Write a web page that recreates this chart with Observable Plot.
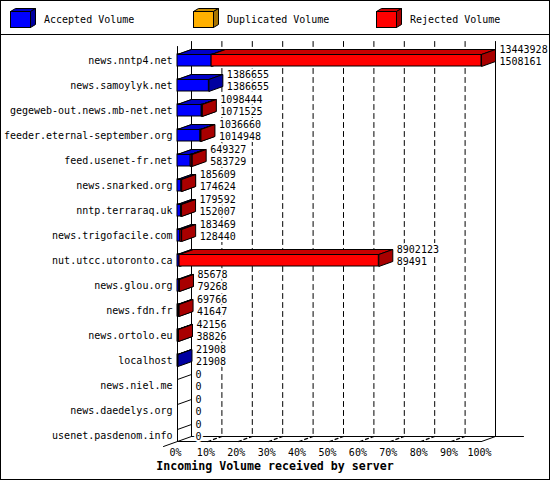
<!DOCTYPE html>
<html><head><meta charset="utf-8">
<script src="https://cdn.jsdelivr.net/npm/d3@7"></script>
<script src="https://cdn.jsdelivr.net/npm/@observablehq/plot@0.6"></script>
<style>
body{margin:0;background:#fff}
#chart{position:relative;width:550px;height:480px;background:#fff;font-family:"DejaVu Sans Mono",monospace;overflow:hidden}
#legend{position:relative;height:34px;border-bottom:1px solid #000}
.item{position:absolute;top:0;height:34px;width:180px}
.item svg{position:absolute;left:0;top:0}
.item span{position:absolute;left:34px;top:14px;line-height:12px;font-size:10px;white-space:nowrap;color:#000}
#plot svg{display:block}
#title{height:22px;line-height:16px;text-align:center;font-weight:bold;font-size:11.6px;color:#000}
#frame{position:absolute;left:0;top:0;width:550px;height:480px;box-sizing:border-box;border:1px solid #000;pointer-events:none}
</style></head>
<body>
<div id="chart">
  <div id="legend"></div>
  <div id="plot"></div>
  <div id="title"></div>
  <div id="frame"></div>
</div>
<script>
// ---- data ----
const hosts = ["news.nntp4.net","news.samoylyk.net","gegeweb-out.news.mb-net.net","feeder.eternal-september.org","feed.usenet-fr.net","news.snarked.org","nntp.terraraq.uk","news.trigofacile.com","nut.utcc.utoronto.ca","news.glou.org","news.fdn.fr","news.ortolo.eu","localhost","news.niel.me","news.daedelys.org","usenet.pasdenom.info"];
const offered  = [13443928,1386655,1098444,1036660,649327,185609,179592,183469,8902123,85678,69766,42156,21908,0,0,0];
const accepted = [1508161,1386655,1071525,1014948,583729,174624,152007,128440,89491,79268,41647,38826,21908,0,0,0];
const duplicated = [0,0,0,0,0,0,0,0,0,0,0,0,0,0,0,0];
const seriesNames = ["Accepted Volume","Duplicated Volume","Rejected Volume"];
const frontColors = ["#0000ff","#ffb000","#ff0000"];
const topColors   = ["#0000c8","#c88c00","#c80000"];
const sideColors  = ["#0000a0","#a87400","#a80000"];
const tickLabels = ["0%","10%","20%","30%","40%","50%","60%","70%","80%","90%","100%"];
const xTitle = "Incoming Volume received by server";

// ---- geometry (pixels) ----
const X0 = 177, X1 = 481, ROW0 = 25, ROW = 25, HALF = 6, DEPTH_X = 14, DEPTH_Y = 5;
const nRows = hosts.length;
const DXU = DEPTH_X / (X1 - X0), DYU = DEPTH_Y / ROW, H = HALF / ROW;
const maxV = d3.max(offered);
const rows = hosts.map((h, i) => ({i, host: h, offered: offered[i], accepted: accepted[i]}));

// segments per series
const seriesValues = [accepted, duplicated, offered.map((o, i) => o - accepted[i] - duplicated[i])];
const segs = [[], [], []];
rows.forEach(r => {
  let start = 0;
  for (let s = 0; s < 3; s++) {
    const v = seriesValues[s][r.i] / maxV;
    if (v > 0) segs[s].push({i: r.i, x1: start, x2: start + v});
    start += v;
  }
});
function topVerts(list) {
  return list.flatMap((d, k) => {
    const y = d.i - H, id = k;
    return [[d.x1, y], [d.x2, y], [d.x2 + DXU, y - DYU], [d.x1 + DXU, y - DYU], [d.x1, y]].map(([x, yy]) => ({id, x, y: yy}));
  });
}
function sideVerts(list) {
  return list.flatMap((d, k) => {
    const t = d.i - H, b = d.i + H, id = k;
    return [[d.x2, t], [d.x2 + DXU, t - DYU], [d.x2 + DXU, b - DYU], [d.x2, b], [d.x2, t]].map(([x, yy]) => ({id, x, y: yy}));
  });
}
function segVerts(list) {
  return list.flatMap((d, k) => [{id: k, x: d.x1, y: d.y1}, {id: k, x: d.x2, y: d.y2}]);
}

// ---- frame lines ----
const floorF = (nRows - 1) + H, floorB = floorF - DYU;
const backTop = -0.76, frontTop = backTop + DYU;
const solidLines = [
  {x1: 0, y1: frontTop, x2: 0, y2: floorF},
  {x1: DXU, y1: backTop, x2: DXU, y2: floorB},
  {x1: 1 + DXU, y1: backTop, x2: 1 + DXU, y2: floorB},
  {x1: 0, y1: floorF, x2: 1, y2: floorF},
  {x1: DXU, y1: floorB, x2: 1 + 3 * DXU, y2: floorB},
  {x1: -DXU, y1: floorF + DYU, x2: DXU, y2: floorB},
  {x1: 1, y1: floorF, x2: 1 + DXU, y2: floorB},
  ...rows.map(r => ({x1: 0, y1: r.i - H, x2: DXU, y2: r.i - H - DYU}))
];
const inner = d3.range(1, 10).map(k => k / 10);
const gridLines = inner.map(v => ({x1: v + DXU, y1: backTop, x2: v + DXU, y2: floorB}));
const floorTicks = inner.map(v => ({x1: v, y1: floorF, x2: v + DXU, y2: floorB}));

const lineOpts = {x: "x", y: "y", z: "id", stroke: "black", strokeWidth: 1, fill: "none", curve: "linear"};
const barMarks = [];
for (let s = 0; s < 3; s++) {
  barMarks.push(
    Plot.rect(segs[s], {x1: "x1", x2: "x2", y1: d => d.i - H, y2: d => d.i + H, fill: frontColors[s], stroke: "black", strokeWidth: 1}),
    Plot.line(topVerts(segs[s]), {...lineOpts, fill: topColors[s]}),
    Plot.line(sideVerts(segs[s]), {...lineOpts, fill: sideColors[s]})
  );
}

const chart = Plot.plot({
  width: 550,
  height: 423,
  x: {domain: [0, 1], range: [X0, X1], axis: null},
  y: {domain: [0, nRows - 1], range: [ROW0, ROW0 + ROW * (nRows - 1)], axis: null},
  style: {fontFamily: "DejaVu Sans Mono", fontSize: "10px", background: "white", color: "black", overflow: "visible"},
  marks: [
    Plot.line(segVerts(gridLines), {...lineOpts, strokeDasharray: "5,4"}),
    Plot.line(segVerts(floorTicks), {...lineOpts, strokeDasharray: "3,3", strokeWidth: 1.3}),
    Plot.line(segVerts(solidLines), lineOpts),
    ...barMarks,
    Plot.text(rows, {x: () => 0, y: "i", text: "host", textAnchor: "end", dx: -5, fill: "black"}),
    Plot.text(rows, {x: d => d.offered / maxV, y: "i", text: d => String(d.offered), textAnchor: "start", dx: 18, dy: -11, fill: "black", stroke: "white", strokeWidth: 4, paintOrder: "stroke"}),
    Plot.text(rows, {x: d => d.offered / maxV, y: "i", text: d => String(d.accepted), textAnchor: "start", dx: 18, dy: 1, fill: "black", stroke: "white", strokeWidth: 4, paintOrder: "stroke"}),
    Plot.text(tickLabels, {x: (d, k) => k / 10, y: () => floorF, text: d => d, dx: -2, dy: 11, fill: "black"})
  ]
});
document.getElementById("plot").appendChild(chart);
document.getElementById("title").textContent = xTitle;

// ---- legend ----
const legendX = [10, 193, 376];
const legend = d3.select("#legend");
seriesNames.forEach((name, s) => {
  const item = legend.append("div").attr("class", "item").style("left", legendX[s] + "px");
  const svg = item.append("svg").attr("width", 30).attr("height", 34);
  svg.append("rect").attr("x", 0.5).attr("y", 11.5).attr("width", 20).attr("height", 16).attr("fill", frontColors[s]).attr("stroke", "black");
  svg.append("polygon").attr("points", "0.5,11.5 20.5,11.5 25.5,8.5 5.5,8.5").attr("fill", topColors[s]).attr("stroke", "black");
  svg.append("polygon").attr("points", "20.5,11.5 25.5,8.5 25.5,24.5 20.5,27.5").attr("fill", sideColors[s]).attr("stroke", "black");
  item.append("span").text(name);
});
</script>
</body></html>
